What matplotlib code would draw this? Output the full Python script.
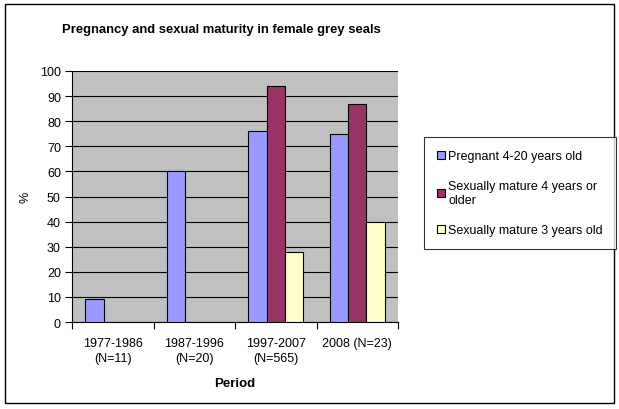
import matplotlib
matplotlib.use("Agg")
import matplotlib.pyplot as plt
import numpy as np
from matplotlib.patches import Rectangle

plt.rcParams['font.family'] = ['Liberation Sans', 'DejaVu Sans']

categories = ["1977-1986\n(N=11)", "1987-1996\n(N=20)", "1997-2007\n(N=565)", "2008 (N=23)"]
series_names = ["Pregnant 4-20 years old", "Sexually mature 4 years or\nolder", "Sexually mature 3 years old"]
pregnant = [9, 60, 76, 75]
mature4 = [np.nan, np.nan, 94, 87]
mature3 = [np.nan, np.nan, 28, 40]
colors = ["#9999FF", "#993366", "#FFFFCC"]

W, H = 619, 410
fig = plt.figure(figsize=(W / 100, H / 100), dpi=100)
fig.patch.set_facecolor("white")

# outer chart border
fig.add_artist(Rectangle((5 / W, 1 - 404 / H), 609 / W, 399 / H, transform=fig.transFigure,
                         fill=False, edgecolor="black", linewidth=1.0))

ax = fig.add_axes([72 / W, 1 - 323 / H, 326 / W, 251 / H])
ax.set_facecolor("#C0C0C0")

x = np.arange(len(categories))
w = 0.225
for i, (vals, col, name) in enumerate(zip([pregnant, mature4, mature3], colors, series_names)):
    ax.bar(x + (i - 1) * w, vals, width=w, color=col, edgecolor="black", linewidth=0.8,
           label=name, zorder=3)

ax.set_xlim(-0.5, len(categories) - 0.5)
ax.set_ylim(0, 100)
ax.set_yticks(np.arange(0, 101, 10))
ax.yaxis.grid(True, color="black", linewidth=0.8, zorder=1)
ax.set_axisbelow(True)

ax.set_xticks(x)
ax.set_xticklabels(categories, fontsize=9, linespacing=1.35)
ax.set_xticks(np.arange(-0.5, len(categories), 1), minor=True)
ax.tick_params(axis="x", which="major", length=0, pad=11)
ax.tick_params(axis="x", which="minor", length=5, width=0.8, direction="out")
ax.tick_params(axis="y", length=5, width=0.8, direction="out", labelsize=9, pad=3)
for s in ["top", "right"]:
    ax.spines[s].set_visible(False)
for s in ["left", "bottom"]:
    ax.spines[s].set_linewidth(0.8)

ax.set_ylabel("%", fontsize=9, labelpad=6)
ax.set_xlabel("Period", fontsize=9.5, fontweight="bold", labelpad=9)

fig.text(62 / W, 1 - 30 / H, "Pregnancy and sexual maturity in female grey seals",
         fontsize=9.4, fontweight="bold", ha="left", va="center")

leg = fig.legend(loc="upper left", bbox_to_anchor=(424 / W, 1 - 138 / H),
                 frameon=True, fancybox=False, edgecolor="black", fontsize=9,
                 handlelength=0.6, handleheight=0.6, handletextpad=0.3,
                 labelspacing=1.45, borderpad=1.05, borderaxespad=0)
leg.get_frame().set_linewidth(0.8)

fig.savefig("out.png", dpi=100)
